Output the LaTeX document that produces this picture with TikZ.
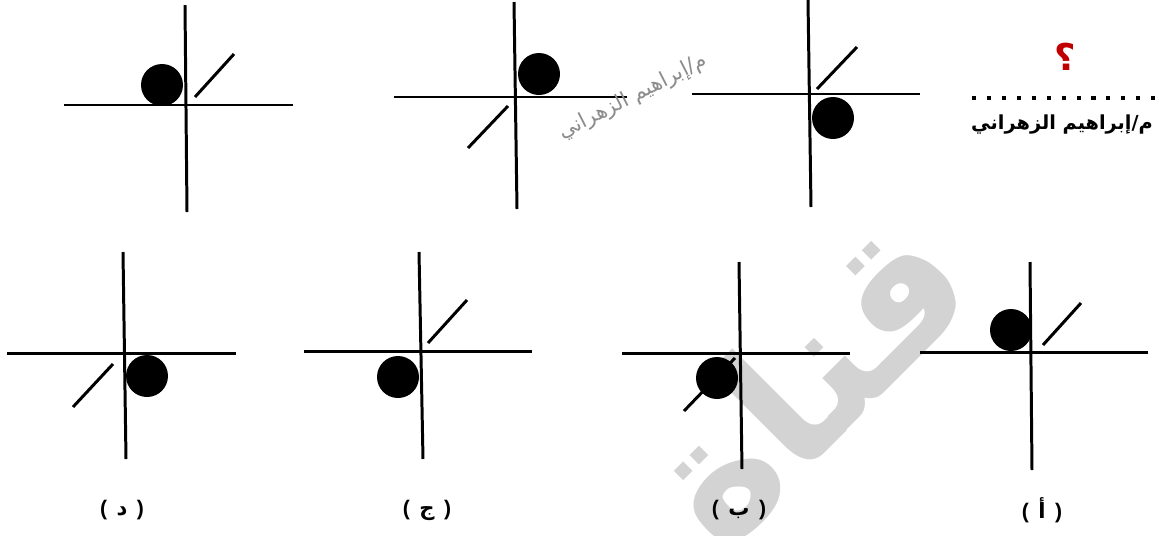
\documentclass[tikz,border=0pt]{standalone}
\usepackage{fontspec}
\setmainfont{Liberation Sans}
\newfontfamily\arabicfont[Script=Arabic]{DejaVu Sans}
\TeXXeTstate=1
\usetikzlibrary{positioning}
\definecolor{qred}{RGB}{192,0,0}
\definecolor{wmgray}{RGB}{211,211,211}
\newcommand{\choice}[1]{(\hspace{0.45em}{\arabicfont #1}\hspace{0.45em})}

\begin{document}
\begin{tikzpicture}[x=0.02cm, y=-0.02cm,
  axis/.style={line width=1.7pt},
  stick/.style={line width=1.7pt},
  ball/.style={fill=black},
  lbl/.style={font=\bfseries\fontsize{12}{14}\selectfont}]
  \useasboundingbox (0,0) rectangle (1161,535);
  % watermark behind everything
  \node[rotate=45, text=wmgray, font=\arabicfont\bfseries\fontsize{104}{104}\selectfont] (logo) at (805,378) {\beginR قناة\endR};

  % top row
  \draw[axis] (185,5) -- (187,212);
  \draw[axis] (64,105) -- (293,105);
  \fill[ball] (162,85) circle[radius=21];
  \draw[stick] (195,97) -- (234,54);

  \draw[axis] (514,2) -- (517,209);
  \draw[axis] (394,97) -- (627,97);
  \fill[ball] (539,74) circle[radius=21];
  \draw[stick] (508,106) -- (468,148);
  \node[rotate=27, text=black!45, font=\arabicfont\fontsize{12}{12}\selectfont] (sign) at (633,97) {\beginR م/إبراهيم الزهراني\endR};

  \draw[axis] (808,0) -- (811,207);
  \draw[axis] (692,94) -- (920,94);
  \fill[ball] (833,118) circle[radius=21];
  \draw[stick] (817,89) -- (857,47);

  % question corner
  \node[text=qred, font=\arabicfont\bfseries\fontsize{21}{21}\selectfont] (qmark) at (1065,57) {؟};
  \draw[line width=2.3pt, dash pattern=on 2.3pt off 6.2pt] (972,98) -- (1160,98);
  \node[font=\arabicfont\bfseries\fontsize{11}{13}\selectfont] (author) at (1062,125) {\beginR م/إبراهيم الزهراني\endR};

  % bottom row (choices)
  \draw[axis] (123,252) -- (126,459);
  \draw[axis] (7,353) -- (236,353);
  \fill[ball] (147,376) circle[radius=21];
  \draw[stick] (113,364) -- (73,407);
  \node[lbl] (optd) at (122,510) {\choice{د}};

  \draw[axis] (419,252) -- (423,459);
  \draw[axis] (304,351) -- (532,351);
  \fill[ball] (398,377) circle[radius=21];
  \draw[stick] (428,343) -- (467,300);
  \node[lbl] (optj) at (427,510) {\choice{ج}};

  \draw[axis] (739,262) -- (742,469);
  \draw[axis] (622,353) -- (850,353);
  \draw[stick] (735,358) -- (684,411);
  \fill[ball] (717,378) circle[radius=21];
  \node[lbl] (optb) at (739,510) {\choice{ب}};

  \draw[axis] (1030,262) -- (1032,470);
  \draw[axis] (920,352) -- (1148,352);
  \fill[ball] (1011,330) circle[radius=21];
  \draw[stick] (1043,345) -- (1081,303);
  \node[lbl] (opta) at (1042,510) {\choice{أ}};
\end{tikzpicture}
\end{document}
